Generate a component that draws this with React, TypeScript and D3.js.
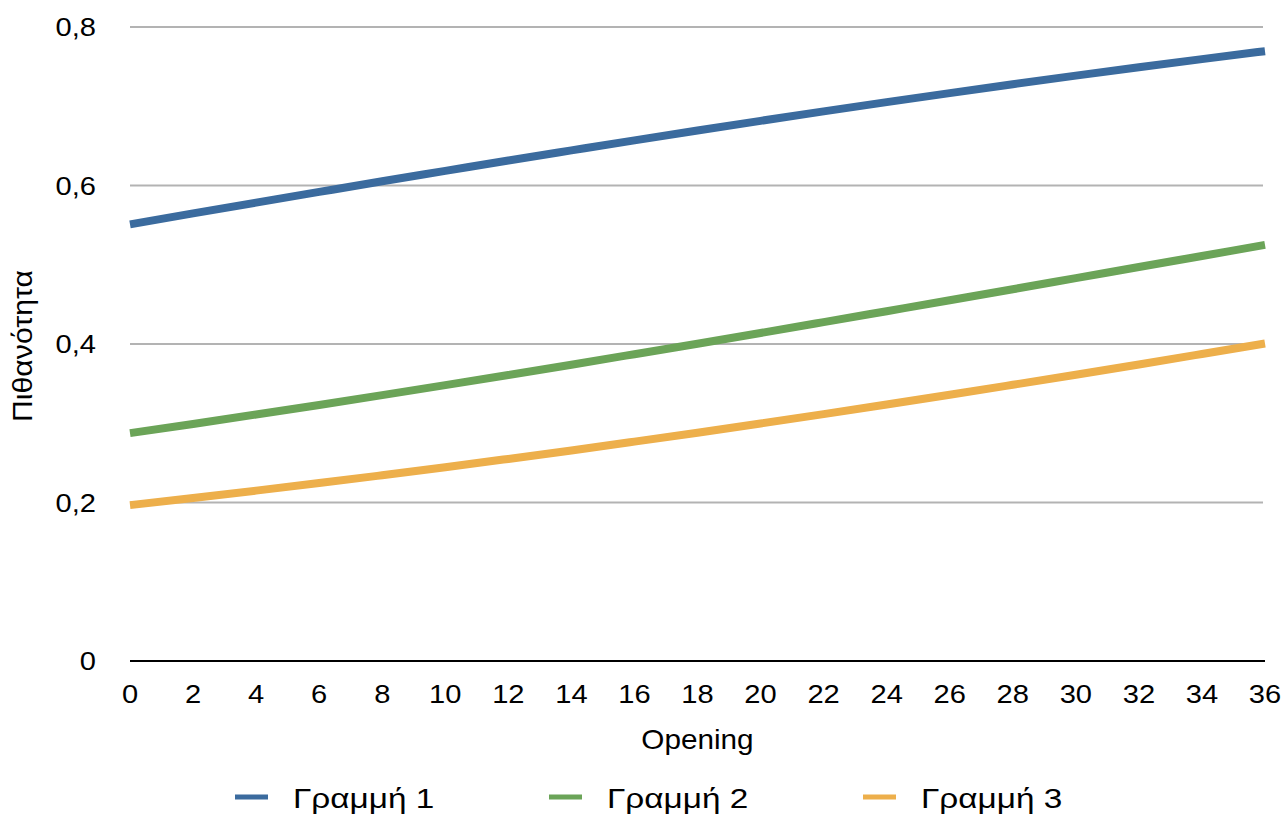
import React from "react";
import * as d3 from "d3";

const openings = [0, 2, 4, 6, 8, 10, 12, 14, 16, 18, 20, 22, 24, 26, 28, 30, 32, 34, 36];
const line1 = [0.551, 0.5648, 0.5784, 0.5919, 0.6053, 0.6184, 0.6315, 0.6443, 0.657, 0.6694, 0.6816, 0.6935, 0.7052, 0.7166, 0.7278, 0.7386, 0.7492, 0.7595, 0.7695];
const line2 = [0.2875, 0.2991, 0.311, 0.3231, 0.3355, 0.3481, 0.3609, 0.3739, 0.3871, 0.4004, 0.4139, 0.4276, 0.4414, 0.4552, 0.4691, 0.4831, 0.4971, 0.5111, 0.5251];
const line3 = [0.1967, 0.2057, 0.215, 0.2245, 0.2344, 0.2445, 0.255, 0.2657, 0.2768, 0.2881, 0.2997, 0.3115, 0.3236, 0.3359, 0.3485, 0.3612, 0.3742, 0.3874, 0.4007];
const seriesNames = ["Γραμμή 1", "Γραμμή 2", "Γραμμή 3"];
const seriesColors = ["#3b6b9e", "#6ba458", "#edaf4b"];
const yTicks = [0, 0.2, 0.4, 0.6, 0.8];
const xTicks = [0, 2, 4, 6, 8, 10, 12, 14, 16, 18, 20, 22, 24, 26, 28, 30, 32, 34, 36];
const xTitle = "Opening";
const yTitle = "Πιθανότητα";

export default function App() {
  const W = 1281, H = 814;
  const left = 130, right = 1265, top = 27, bottom = 661;
  const x = d3.scaleLinear().domain([0, 36]).range([left, right]);
  const y = d3.scaleLinear().domain([0, 0.8]).range([bottom, top]);
  const allSeries = [line1, line2, line3];
  const lineGen = d3.line<number>().x((_, i) => x(openings[i])).y((d) => y(d)).curve(d3.curveMonotoneX);
  const font = "'Liberation Sans', Arial, Helvetica, sans-serif";
  const fmt = (v: number) => (v === 0 ? "0" : String(v).replace(".", ","));
  const legendX = [235, 549, 863];
  const legendY = 797;
  const sx = 1.12;
  return (
    <svg width={W} height={H} style={{ position: "absolute", left: 0, top: 0, background: "#fff" }} fontFamily={font}>
      {yTicks.filter((t) => t > 0).map((t) => (
        <line key={"g" + t} x1={left} x2={right - 2} y1={y(t)} y2={y(t)} stroke="#b3b3b3" strokeWidth={2} />
      ))}
      <line x1={left} x2={right} y1={y(0)} y2={y(0)} stroke="#000" strokeWidth={2} />
      {yTicks.map((t) => (
        <text key={"y" + t} transform={`translate(96,${y(t)}) scale(${sx},1)`} dy="0.35em" textAnchor="end" fontSize={26} fill="#000">{fmt(t)}</text>
      ))}
      {xTicks.map((t) => (
        <text key={"x" + t} transform={`translate(${x(t)},694) scale(${sx},1)`} dy="0.35em" textAnchor="middle" fontSize={26} fill="#000">{t}</text>
      ))}
      <text transform={`translate(${(left + right) / 2},740) scale(1.1,1)`} dy="0.35em" textAnchor="middle" fontSize={27} fill="#000">{xTitle}</text>
      <text transform={`translate(23,346) rotate(-90) scale(1.12,1)`} dy="0.35em" textAnchor="middle" fontSize={27} fill="#000">{yTitle}</text>
      {allSeries.map((s, i) => (
        <path key={"s" + i} d={lineGen(s) || ""} fill="none" stroke={seriesColors[i]} strokeWidth={8} />
      ))}
      {seriesNames.map((n, i) => (
        <g key={"l" + i}>
          <line x1={legendX[i]} x2={legendX[i] + 33} y1={legendY} y2={legendY} stroke={seriesColors[i]} strokeWidth={5} />
          <text transform={`translate(${legendX[i] + 58},${legendY + 1}) scale(1.19,1)`} dy="0.35em" fontSize={28} fill="#000">{n}</text>
        </g>
      ))}
    </svg>
  );
}
